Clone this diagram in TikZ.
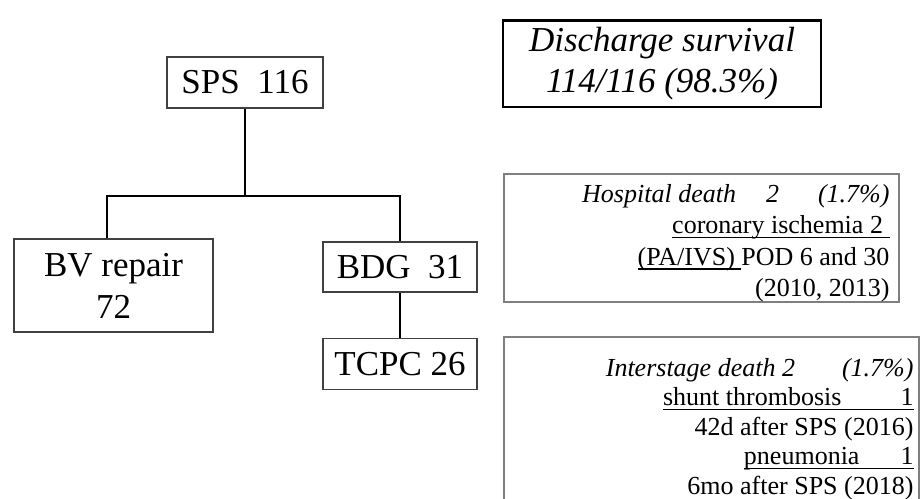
\documentclass[tikz,border=0pt]{standalone}
\usepackage{fontspec}
\setmainfont{Liberation Serif}
\usetikzlibrary{positioning}
\definecolor{boxline}{HTML}{404040}
\definecolor{noteline}{HTML}{7F7F7F}
% underline at a fixed depth, through descenders
\newcommand\udl[1]{\leavevmode\setbox0\hbox{#1}\rlap{\rule[-2.2pt]{\wd0}{0.65pt}}\box0}

\begin{document}
\begin{tikzpicture}[x=0.5pt,y=-0.5pt,node distance=22.5pt,
 stage/.style={draw=boxline,line width=0.6pt,inner sep=0pt,align=center,font=\fontsize{17.5}{21}\selectfont},
 note/.style={draw=noteline,line width=0.9pt,inner sep=0pt},
 notetext/.style={inner sep=0pt,align=right,anchor=north east,font=\fontsize{13}{15.7}\selectfont},
 link/.style={line width=1pt}]
\clip (0,0) rectangle (924,498);
% flow chart
\node[stage,minimum width=78pt,minimum height=25.5pt] (sps) at (245,82.5) {SPS\ \ 116};
\node[stage,minimum width=99.5pt,minimum height=46.5pt] (bv) at (113.5,285.5) {BV repair\\72};
\node[stage,minimum width=77pt,minimum height=25pt] (bdg) at (400,267) {BDG\ \ 31};
\node[stage,minimum width=77pt,minimum height=25.5pt,below=22.5pt of bdg] (tcpc) {TCPC 26};
\coordinate (split) at (245,196);
\draw[link] (sps) -- (split);
\draw[link] ([xshift=-3.2pt]bv.north) |- (split) -| (bdg.north);
\draw[link] (bdg) -- (tcpc);
% outcome boxes
\node[draw,line width=1.2pt,minimum width=159pt,minimum height=43.3pt,inner sep=0pt,align=center,
 font=\itshape\fontsize{17.5}{20.5}\selectfont] (survival) at (662,63.7) {Discharge survival\\114/116 (98.3\%)};
\node[note,minimum width=197.5pt,minimum height=64pt] (hospbox) at (701.5,238) {};
\node[notetext] (hosptext) at ([xshift=-5pt,yshift=-5.5pt]hospbox.north east)
 {\textit{Hospital death}\hspace{15pt}\textit{2}\hspace{19.5pt}\textit{(1.7\%)}\\
  \udl{coronary ischemia 2\ }\hspace{6.5pt}\\
  \udl{(PA/IVS)\ }POD 6 and 30\\
  (2010, 2013)};
\node[note,minimum width=207.5pt,minimum height=96.5pt] (interbox) at (711.5,433.5) {};
\node[notetext,font=\fontsize{13}{14.7}\selectfont] (intertext) at ([xshift=-3pt,yshift=-11pt]interbox.north east)
 {\textit{Interstage death 2}\hspace{23.5pt}\textit{(1.7\%)}\\
  \udl{shunt thrombosis\hspace{29.5pt}1}\\
  42d after SPS (2016)\\
  \udl{pneumonia\hspace{20.5pt}1}\\
  6mo after SPS (2018)};
\end{tikzpicture}
\end{document}
